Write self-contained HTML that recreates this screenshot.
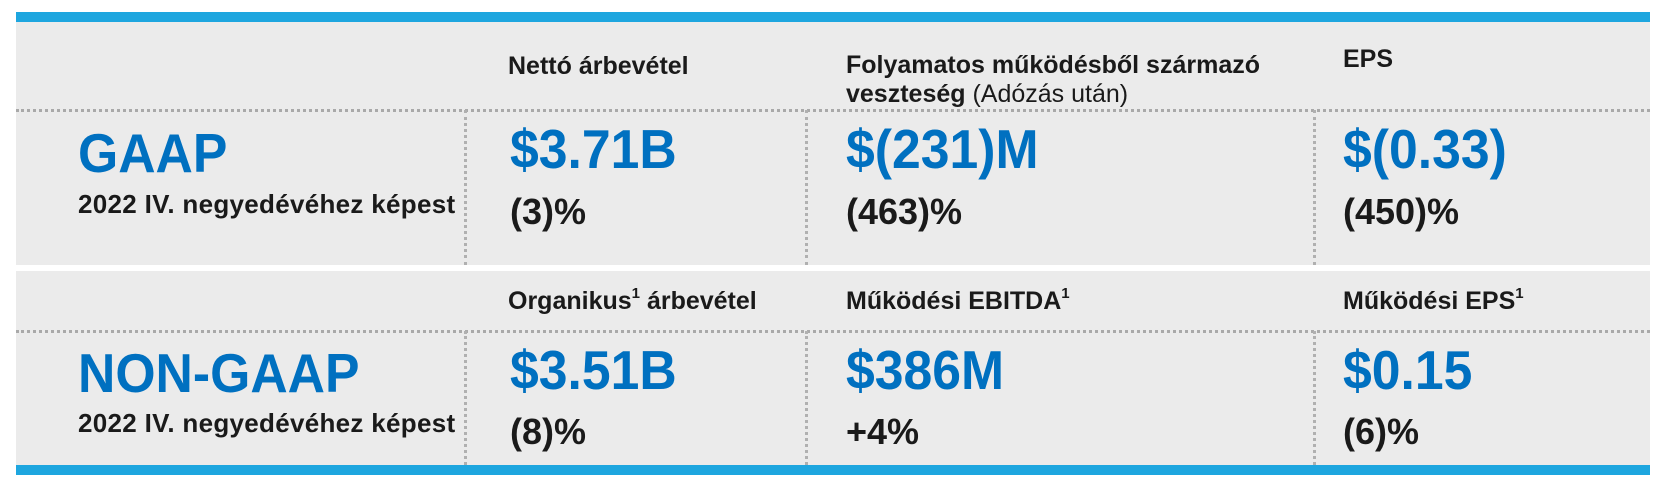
<!DOCTYPE html>
<html><head><meta charset="utf-8"><style>
body{margin:0;width:1664px;height:490px;background:#fff;position:relative;overflow:hidden;font-family:"Liberation Sans",Arial,sans-serif}
.a{position:absolute;white-space:nowrap;line-height:1}
.bar{position:absolute;left:16px;width:1634px;height:10px;background:#1ea6df}
.g{position:absolute;left:16px;width:1634px;background:#ebebeb}
.h{position:absolute;left:16px;width:1634px;border-top:3px dotted #a9a9a9;height:0}
.v{position:absolute;width:0;border-left:3px dotted #b0b0b0}
.hd{font-size:25px;font-weight:bold;color:#1a1a1a}
.big{font-size:55px;font-weight:bold;color:#0070c0;transform:scaleX(0.94);transform-origin:0 0}
.pc{font-size:36px;font-weight:bold;color:#1a1a1a}
.sub{font-size:26px;font-weight:bold;color:#1a1a1a;letter-spacing:0.3px}
sup{font-size:15px;vertical-align:top;position:relative;top:-3px}
</style></head><body>
<div class="bar" style="top:12px"></div>
<div class="g" style="top:22px;height:243px"></div>
<div class="g" style="top:271px;height:194px"></div>
<div class="bar" style="top:465px"></div>
<div class="h" style="top:109px"></div>
<div class="h" style="top:330px"></div>
<div class="v" style="left:464px;top:110px;height:155px"></div>
<div class="v" style="left:805px;top:110px;height:155px"></div>
<div class="v" style="left:1313px;top:110px;height:155px"></div>
<div class="v" style="left:464px;top:331px;height:134px"></div>
<div class="v" style="left:805px;top:331px;height:134px"></div>
<div class="v" style="left:1313px;top:331px;height:134px"></div>

<div class="a hd" style="left:508px;top:54px">Nettó árbevétel</div>
<div class="a hd" style="left:846px;top:53px">Folyamatos működésből származó</div>
<div class="a hd" style="left:846px;top:82px">veszteség <span style="font-weight:normal">(Adózás után)</span></div>
<div class="a hd" style="left:1343px;top:47px">EPS</div>

<div class="a big" style="left:78px;top:126px">GAAP</div>
<div class="a sub" style="left:78px;top:191px">2022 IV. negyedévéhez képest</div>
<div class="a big" style="left:510px;top:122px">$3.71B</div>
<div class="a big" style="left:846px;top:122px">$(231)M</div>
<div class="a big" style="left:1343px;top:122px">$(0.33)</div>
<div class="a pc" style="left:510px;top:194px">(3)%</div>
<div class="a pc" style="left:846px;top:194px">(463)%</div>
<div class="a pc" style="left:1343px;top:194px">(450)%</div>

<div class="a hd" style="left:508px;top:289px">Organikus<sup>1</sup> árbevétel</div>
<div class="a hd" style="left:846px;top:289px">Működési EBITDA<sup>1</sup></div>
<div class="a hd" style="left:1343px;top:289px">Működési EPS<sup>1</sup></div>

<div class="a big" style="left:78px;top:346px">NON-GAAP</div>
<div class="a sub" style="left:78px;top:410px">2022 IV. negyedévéhez képest</div>
<div class="a big" style="left:510px;top:343px">$3.51B</div>
<div class="a big" style="left:846px;top:343px">$386M</div>
<div class="a big" style="left:1343px;top:343px">$0.15</div>
<div class="a pc" style="left:510px;top:414px">(8)%</div>
<div class="a pc" style="left:846px;top:414px">+4%</div>
<div class="a pc" style="left:1343px;top:414px">(6)%</div>
</body></html>
